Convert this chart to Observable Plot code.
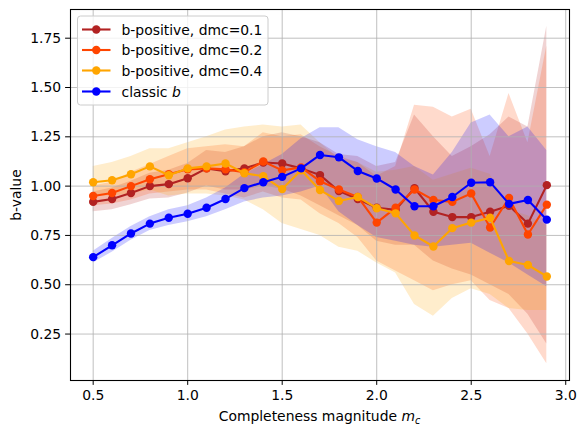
<!DOCTYPE html>
<html>
<head>
<meta charset="utf-8">
<script src="https://cdn.jsdelivr.net/npm/d3@7"></script>
<script src="https://cdn.jsdelivr.net/npm/@observablehq/plot@0.6"></script>
<style>
  html, body { margin: 0; padding: 0; background: white; }
  #chart { width: 583px; height: 436px; }
</style>
</head>
<body>
<div id="chart"></div>
<script>
// ---------- data ----------
const mc = [0.5,0.6,0.7,0.8,0.9,1.0,1.1,1.2,1.3,1.4,1.5,1.6,1.7,1.8,1.9,2.0,2.1,2.2,2.3,2.4,2.5,2.6,2.7,2.8,2.9];

const seriesNames = ["b-positive, dmc=0.1", "b-positive, dmc=0.2", "b-positive, dmc=0.4", "classic b"];

const bpos01 = [0.92,0.935,0.965,1.0,1.01,1.04,1.09,1.075,1.09,1.12,1.115,1.09,1.056,0.975,0.935,0.89,0.88,0.99,0.87,0.843,0.843,0.87,0.90,0.81,1.005];
const bpos01Lo = [0.87,0.88,0.905,0.935,0.94,0.965,1.0,0.98,0.98,1.0,0.985,0.95,0.90,0.85,0.80,0.72,0.70,0.70,0.62,0.58,0.55,0.50,0.45,0.35,0.20];
const bpos01Hi = [0.97,0.99,1.025,1.065,1.08,1.115,1.18,1.17,1.20,1.25,1.27,1.25,1.22,1.16,1.15,1.10,1.12,1.36,1.25,1.15,1.20,1.26,1.35,1.30,1.81];

const bpos02 = [0.95,0.965,1.0,1.035,1.06,1.085,1.09,1.085,1.07,1.125,1.08,1.095,1.025,0.983,0.945,0.815,0.89,0.983,0.93,0.92,0.963,0.79,0.94,0.755,0.906];
const bpos02Lo = [0.90,0.91,0.93,0.96,0.97,0.98,0.98,0.96,0.94,0.97,0.94,0.93,0.86,0.81,0.74,0.62,0.57,0.52,0.47,0.50,0.52,0.42,0.38,0.25,0.10];
const bpos02Hi = [1.0,1.02,1.07,1.11,1.15,1.19,1.20,1.21,1.20,1.27,1.25,1.26,1.20,1.15,1.12,1.05,1.10,1.41,1.40,1.35,1.39,1.15,1.47,1.22,1.71];

const bpos04 = [1.02,1.03,1.06,1.10,1.055,1.09,1.10,1.115,1.065,1.05,0.985,1.08,0.98,0.925,0.945,0.888,0.862,0.75,0.694,0.787,0.815,0.84,0.62,0.60,0.542];
const bpos04Lo = [0.95,0.95,0.96,0.98,0.95,0.96,0.96,0.95,0.93,0.88,0.81,0.78,0.75,0.69,0.67,0.61,0.56,0.40,0.34,0.43,0.48,0.45,0.38,0.37,0.37];
const bpos04Hi = [1.10,1.12,1.15,1.19,1.19,1.22,1.25,1.285,1.30,1.31,1.30,1.31,1.22,1.14,1.12,1.07,1.08,1.10,1.03,1.06,1.09,1.06,0.88,0.85,0.80];

const classic = [0.64,0.70,0.76,0.81,0.84,0.86,0.89,0.935,0.99,1.02,1.047,1.09,1.158,1.146,1.077,1.039,0.983,0.898,0.898,0.945,1.017,1.02,0.91,0.93,0.83];
const classicLo = [0.61,0.665,0.725,0.775,0.80,0.82,0.845,0.88,0.92,0.94,0.95,0.97,1.00,0.87,0.80,0.74,0.72,0.70,0.69,0.70,0.71,0.66,0.61,0.55,0.49];
const classicHi = [0.67,0.735,0.795,0.845,0.88,0.90,0.94,0.99,1.06,1.11,1.16,1.24,1.296,1.296,1.235,1.20,1.17,1.10,1.056,1.17,1.32,1.36,1.25,1.30,1.18];

const colors = ["#b22222", "#ff4500", "#ffa500", "#0000ff"];

const xTicks = [0.5,1.0,1.5,2.0,2.5,3.0];
const yTicks = [0.25,0.5,0.75,1.0,1.25,1.5,1.75];

// ---------- tables ----------
const sets = [
  [bpos01, bpos01Lo, bpos01Hi],
  [bpos02, bpos02Lo, bpos02Hi],
  [bpos04, bpos04Lo, bpos04Hi],
  [classic, classicLo, classicHi]
];
const tables = sets.map(([v, lo, hi], k) =>
  mc.map((x, i) => ({x, v: v[i], lo: lo[i], hi: hi[i], s: seriesNames[k]}))
);

// matplotlib-like autoscale with 5% margins
const allY = sets.flatMap(s => s.flat());
const [ymin, ymax] = d3.extent(allY);
const ypad = (ymax - ymin) * 0.05;
const [xmin, xmax] = d3.extent(mc);
const xpad = (xmax - xmin) * 0.05;

const gridStyle = {stroke: "#b0b0b0", strokeOpacity: 1, strokeWidth: 0.8};

const marks = [];
tables.forEach((t, k) => marks.push(Plot.areaY(t, {x: "x", y1: "lo", y2: "hi", fill: colors[k], fillOpacity: 0.2, curve: "linear"})));
marks.push(Plot.gridX(xTicks, gridStyle));
marks.push(Plot.gridY(yTicks, gridStyle));
tables.forEach((t, k) => {
  marks.push(Plot.line(t, {x: "x", y: "v", stroke: colors[k], strokeWidth: 2.1}));
  marks.push(Plot.dot(t, {x: "x", y: "v", fill: colors[k], r: 4.2, stroke: "none"}));
});
marks.push(Plot.frame({stroke: "black", strokeWidth: 1.1}));
marks.push(Plot.axisX(xTicks, {tickSize: 4.9, tickPadding: 4.5, tickFormat: d3.format(".1f"), label: null, stroke: "black", fill: "black"}));
marks.push(Plot.axisY(yTicks, {tickSize: 4.9, tickPadding: 4.5, tickFormat: d3.format(".2f"), label: null, stroke: "black", fill: "black"}));

const chart = Plot.plot({
  width: 583,
  height: 436,
  marginLeft: 70,
  marginRight: 14,
  marginTop: 9,
  marginBottom: 56,
  x: {domain: [xmin - xpad, xmax + xpad]},
  y: {domain: [ymin - ypad, ymax + ypad]},
  style: {fontFamily: "DejaVu Sans, sans-serif", fontSize: "13.9px", background: "white", color: "black"},
  marks
});
document.getElementById("chart").appendChild(chart);

// ---------- axis labels & legend (real text) ----------
const svg = d3.select(chart);
const xl = svg.append("text")
  .attr("x", 319.5).attr("y", 421)
  .attr("text-anchor", "middle")
  .style("font-family", "DejaVu Sans").style("font-size", "13.9px").attr("fill", "black");
xl.append("tspan").text("Completeness magnitude ");
xl.append("tspan").text("m").style("font-style", "italic");
xl.append("tspan").text("c").style("font-style", "italic").style("font-size", "9.7px").attr("dy", "3");

svg.append("text")
  .attr("transform", "translate(21,195) rotate(-90)")
  .attr("text-anchor", "middle")
  .style("font-family", "DejaVu Sans").style("font-size", "13.9px").attr("fill", "black")
  .text("b-value");

const lg = svg.append("g").attr("text-anchor", "start");
lg.append("rect")
  .attr("x", 77.5).attr("y", 16).attr("width", 190.5).attr("height", 89)
  .attr("rx", 3).attr("fill", "white").attr("fill-opacity", 0.8)
  .attr("stroke", "#cccccc").attr("stroke-width", 1);
const rowY = [29.5, 50, 70.5, 91.5];
seriesNames.forEach((name, k) => {
  const y = rowY[k];
  lg.append("line").attr("x1", 82).attr("x2", 110.5).attr("y1", y).attr("y2", y)
    .attr("stroke", colors[k]).attr("stroke-width", 2.1);
  lg.append("circle").attr("cx", 96.3).attr("cy", y).attr("r", 4.2).attr("fill", colors[k]);
  const t = lg.append("text").attr("x", 121.5).attr("y", y + 5)
    .attr("text-anchor", "start")
    .style("font-family", "DejaVu Sans").style("font-size", "13.9px").attr("fill", "black");
  if (name === "classic b") {
    t.append("tspan").text("classic ");
    t.append("tspan").text("b").style("font-style", "italic");
  } else {
    t.text(name);
  }
});
</script>
</body>
</html>
